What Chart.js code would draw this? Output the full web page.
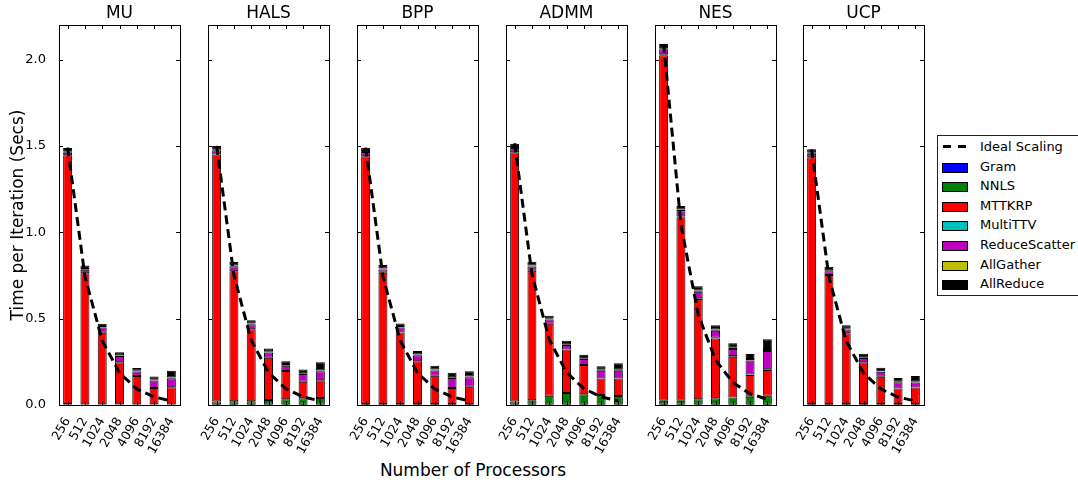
<!DOCTYPE html>
<html lang="en">
<head>
  <meta charset="UTF-8" />
  <title>Time per Iteration</title>
  <script src="https://cdn.jsdelivr.net/npm/chart.js"></script>
  <style>
    body { margin: 0; background: #fff; font-family: "DejaVu Sans", sans-serif; }
    #wrap { position: relative; width: 1078px; height: 485px; overflow: hidden; }
    canvas { position: absolute; top: 0; }
    #xtitle { position: absolute; left: 0; width: 946px; top: 460px; text-align: center; font-size: 17px; }
    #legend { position: absolute; left: 937px; top: 135px; width: 150px; height: 159px; border: 1px solid #222; background: #fff; font-size: 13px; }
    .row { position: absolute; left: 0; height: 20px; line-height: 20px; }
    .sw { position: absolute; left: 4px; top: 6px; width: 24px; height: 8px; border: 1px solid #000; }
    .dash { position: absolute; top: 8px; width: 8px; height: 3px; background: #000; }
    .lbl { position: absolute; left: 42px; white-space: nowrap; }
  </style>
</head>
<body>
<div id="wrap">
  <div id="xtitle">Number of Processors</div>
  <div id="legend"></div>
</div>
<script>
// categories
const methods = ["MU", "HALS", "BPP", "ADMM", "NES", "UCP"];
const procs = ["256", "512", "1024", "2048", "4096", "8192", "16384"];

// one row per method (MU, HALS, BPP, ADMM, NES, UCP), one value per processor count
const gram = [
  [0.003, 0.002, 0.002, 0.002, 0.002, 0.002, 0.002],
  [0.002, 0.002, 0.002, 0.002, 0.002, 0.002, 0.002],
  [0.002, 0.002, 0.002, 0.002, 0.002, 0.002, 0.002],
  [0.002, 0.002, 0.002, 0.002, 0.002, 0.002, 0.002],
  [0.002, 0.002, 0.002, 0.002, 0.002, 0.002, 0.002],
  [0.002, 0.002, 0.002, 0.002, 0.002, 0.002, 0.002]
];
const nnls = [
  [0.003, 0.003, 0.003, 0.003, 0.003, 0.003, 0.003],
  [0.018, 0.020, 0.020, 0.027, 0.031, 0.037, 0.038],
  [0.004, 0.004, 0.004, 0.004, 0.004, 0.004, 0.004],
  [0.018, 0.025, 0.052, 0.067, 0.060, 0.056, 0.050],
  [0.023, 0.023, 0.031, 0.037, 0.042, 0.046, 0.052],
  [0.004, 0.004, 0.004, 0.004, 0.004, 0.004, 0.004]
];
const mttkrp = [
  [1.440, 0.758, 0.413, 0.243, 0.163, 0.093, 0.098],
  [1.430, 0.753, 0.417, 0.245, 0.164, 0.095, 0.103],
  [1.434, 0.759, 0.414, 0.247, 0.164, 0.092, 0.099],
  [1.443, 0.750, 0.416, 0.253, 0.169, 0.096, 0.102],
  [2.000, 1.062, 0.580, 0.346, 0.235, 0.125, 0.148],
  [1.429, 0.747, 0.409, 0.241, 0.158, 0.090, 0.096]
];
const multiTTV = [
  [0, 0, 0, 0, 0, 0, 0],
  [0, 0, 0, 0, 0, 0, 0],
  [0, 0, 0, 0, 0, 0, 0],
  [0, 0, 0, 0, 0, 0, 0],
  [0.005, 0.005, 0.005, 0.005, 0.005, 0.004, 0.005],
  [0, 0, 0, 0, 0, 0, 0]
];
const reduceScatter = [
  [0.015, 0.020, 0.030, 0.035, 0.026, 0.044, 0.052],
  [0.025, 0.028, 0.028, 0.030, 0.030, 0.045, 0.052],
  [0.025, 0.020, 0.028, 0.035, 0.030, 0.058, 0.055],
  [0.025, 0.025, 0.025, 0.025, 0.035, 0.045, 0.045],
  [0.030, 0.030, 0.038, 0.040, 0.040, 0.080, 0.105],
  [0.020, 0.022, 0.022, 0.025, 0.028, 0.035, 0.028]
];
const allGather = [
  [0.005, 0.005, 0.004, 0.004, 0.004, 0.004, 0.004],
  [0.005, 0.005, 0.005, 0.005, 0.005, 0.005, 0.005],
  [0.005, 0.005, 0.004, 0.004, 0.005, 0.005, 0.005],
  [0.005, 0.005, 0.005, 0.005, 0.005, 0.005, 0.005],
  [0.005, 0.010, 0.007, 0.007, 0.008, 0.010, 0.012],
  [0.005, 0.005, 0.005, 0.005, 0.004, 0.004, 0.004]
];
const allReduce = [
  [0.022, 0.020, 0.018, 0.018, 0.016, 0.019, 0.040],
  [0.020, 0.020, 0.018, 0.018, 0.022, 0.021, 0.048],
  [0.020, 0.020, 0.020, 0.020, 0.022, 0.025, 0.030],
  [0.020, 0.022, 0.016, 0.020, 0.020, 0.020, 0.037],
  [0.025, 0.020, 0.025, 0.025, 0.025, 0.028, 0.056],
  [0.020, 0.020, 0.020, 0.020, 0.020, 0.021, 0.034]
];
const ideal = [
  [1.490, 0.745, 0.373, 0.186, 0.093, 0.047, 0.023],
  [1.500, 0.750, 0.375, 0.188, 0.094, 0.047, 0.023],
  [1.490, 0.745, 0.373, 0.186, 0.093, 0.047, 0.023],
  [1.515, 0.758, 0.379, 0.189, 0.095, 0.047, 0.024],
  [2.090, 1.045, 0.523, 0.261, 0.131, 0.065, 0.033],
  [1.480, 0.740, 0.370, 0.185, 0.093, 0.046, 0.023]
];
const yTicks = [0, 0.5, 1.0, 1.5, 2.0];

const parts = [
  { name: "Gram", data: gram, color: "#0000ff" },
  { name: "NNLS", data: nnls, color: "#008000" },
  { name: "MTTKRP", data: mttkrp, color: "#ff0000" },
  { name: "MultiTTV", data: multiTTV, color: "#00bfbf" },
  { name: "ReduceScatter", data: reduceScatter, color: "#bf00bf" },
  { name: "AllGather", data: allGather, color: "#bfbf00" },
  { name: "AllReduce", data: allReduce, color: "#000000" }
];

const plotLeft = [59, 208, 357, 506, 655, 803];
const plotW = 121;
const padR = 15;

// matplotlib style box with inward ticks
const framePlugin = {
  id: "frame",
  afterDraw(chart) {
    const { ctx, chartArea: a, scales } = chart;
    ctx.save();
    ctx.strokeStyle = "#000";
    ctx.lineWidth = 1;
    ctx.beginPath();
    yTicks.forEach(v => {
      const y = Math.round(scales.y.getPixelForValue(v)) + 0.5;
      ctx.moveTo(a.left, y); ctx.lineTo(a.left + 4, y);
      ctx.moveTo(a.right, y); ctx.lineTo(a.right - 4, y);
    });
    procs.forEach((p, i) => {
      const x = Math.round(scales.x.getPixelForTick(i)) + 0.5;
      ctx.moveTo(x, a.top); ctx.lineTo(x, a.top + 4);
      ctx.moveTo(x, a.bottom); ctx.lineTo(x, a.bottom - 4);
    });
    ctx.stroke();
    ctx.strokeRect(Math.round(a.left) + 0.5, Math.round(a.top) + 0.5, Math.round(a.right - a.left), Math.round(a.bottom - a.top));
    ctx.restore();
  }
};

const wrap = document.getElementById("wrap");
methods.forEach((m, k) => {
  const gutL = k === 0 ? 59 : 30;
  const cv = document.createElement("canvas");
  cv.width = gutL + plotW + padR;
  cv.height = 455;
  cv.style.left = (plotLeft[k] - gutL) + "px";
  wrap.appendChild(cv);

  const datasets = parts.map(p => ({
    type: "bar",
    label: p.name,
    data: p.data[k],
    backgroundColor: p.color,
    borderColor: "#000",
    borderWidth: 1,
    borderSkipped: false,
    barPercentage: 0.52,
    categoryPercentage: 1,
    stack: "s",
    order: 1
  }));
  datasets.push({
    type: "line",
    label: "Ideal Scaling",
    data: ideal[k],
    borderColor: "#000",
    borderWidth: 3,
    borderDash: [9, 5],
    pointRadius: 0,
    fill: false,
    stack: "ideal",
    order: 0
  });

  new Chart(cv, {
    data: { labels: procs, datasets },
    options: {
      responsive: false,
      animation: false,
      devicePixelRatio: 1,
      layout: { padding: { left: 0, right: padR, top: 0, bottom: 0 } },
      plugins: {
        legend: { display: false },
        tooltip: { enabled: false },
        title: {
          display: true, text: m, color: "#000", fullSize: false,
          font: { family: "DejaVu Sans", size: 17, weight: "normal" },
          padding: { top: 3, bottom: 1.6 }
        }
      },
      scales: {
        x: {
          stacked: true,
          offset: true,
          grid: { display: false },
          border: { display: false },
          ticks: {
            color: "#000", autoSkip: false, minRotation: 60, maxRotation: 60, padding: 2,
            font: { family: "DejaVu Sans", size: 12.5 }
          },
          afterFit(s) { s.height = 50; }
        },
        y: {
          stacked: true,
          min: 0, max: 2.2,
          grid: { display: false },
          border: { display: false },
          ticks: {
            display: k === 0, stepSize: 0.5, includeBounds: false, padding: 5, color: "#000",
            font: { family: "DejaVu Sans", size: 13 },
            callback: v => v.toFixed(1)
          },
          title: {
            display: k === 0, text: "Time per Iteration (Secs)", color: "#000",
            font: { family: "DejaVu Sans", size: 17 }, padding: { top: 8, bottom: 0 }
          },
          afterFit(s) { s.width = gutL; }
        }
      }
    },
    plugins: [framePlugin]
  });
});

// legend
const legend = document.getElementById("legend");
const rows = [{ name: "Ideal Scaling", dash: true }].concat(parts);
rows.forEach((r, i) => {
  const row = document.createElement("div");
  row.className = "row";
  row.style.top = (1 + i * 19.6) + "px";
  row.style.width = "150px";
  if (r.dash) {
    row.innerHTML = '<span class="dash" style="left:5px"></span><span class="dash" style="left:20px"></span>';
  } else {
    row.innerHTML = '<span class="sw" style="background:' + r.color + '"></span>';
  }
  row.innerHTML += '<span class="lbl">' + r.name + '</span>';
  legend.appendChild(row);
});
</script>
</body>
</html>
